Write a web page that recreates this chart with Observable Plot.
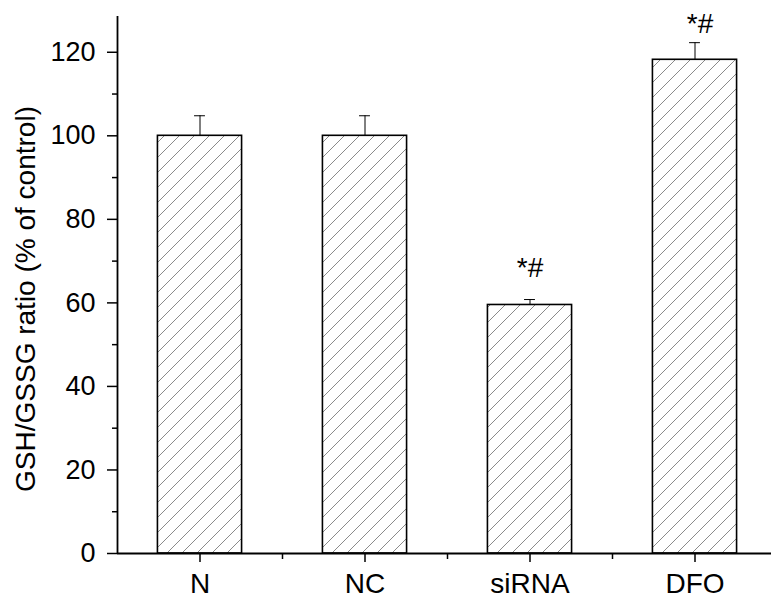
<!DOCTYPE html>
<html>
<head>
<meta charset="utf-8">
<script src="https://cdn.jsdelivr.net/npm/d3@7"></script>
<script src="https://cdn.jsdelivr.net/npm/@observablehq/plot@0.6"></script>
<style>
  html, body { margin: 0; padding: 0; background: #fff; overflow: hidden; }
  svg { display: block; }
</style>
</head>
<body>
<div id="chart"></div>
<script>
const categories = ["N", "NC", "siRNA", "DFO"];
const values = [100, 100, 59.5, 118.2];
const errors = [4.8, 4.8, 1.3, 4.1];
const marks = ["", "", "*#", "*#"];
const yTicks = [0, 20, 40, 60, 80, 100, 120];
const yMinorTicks = [10, 30, 50, 70, 90, 110];
const yLabel = "GSH/GSSG ratio (% of control)";

const data = categories.map((c, i) => ({
  cat: c, pos: i + 1, value: values[i], err: errors[i], mark: marks[i]
}));
const half = 0.255;
const cap = 0.033;

const chart = Plot.plot({
  width: 771,
  height: 602,
  marginLeft: 117,
  marginRight: 0,
  marginTop: 10,
  marginBottom: 49,
  style: { fontFamily: "'Liberation Sans', Arial, sans-serif", color: "#000", background: "#fff" },
  x: { type: "linear", domain: [0.5, 0.5 + 654 / 165] },
  y: { domain: [0, 130] },
  marks: [
    () => {
      const ns = "http://www.w3.org/2000/svg";
      const defs = document.createElementNS(ns, "defs");
      const p = document.createElementNS(ns, "pattern");
      p.setAttribute("id", "hatch");
      p.setAttribute("patternUnits", "userSpaceOnUse");
      p.setAttribute("width", "15");
      p.setAttribute("height", "15");
      const l1 = document.createElementNS(ns, "path");
      l1.setAttribute("d", "M-2,17 L17,-2 M-2,2 L2,-2 M13,17 L17,13");
      l1.setAttribute("stroke", "#8a8a8a");
      l1.setAttribute("stroke-width", "1");
      p.appendChild(l1);
      defs.appendChild(p);
      return defs;
    },
    Plot.rect(data, {
      x1: d => d.pos - half, x2: d => d.pos + half,
      y1: 0, y2: "value",
      fill: "url(#hatch)", stroke: "#000", strokeWidth: 1.6
    }),
    Plot.ruleX(data, { x: "pos", y1: "value", y2: d => d.value + d.err, stroke: "#000", strokeWidth: 1 }),
    Plot.ruleY(data, { y: d => d.value + d.err, x1: d => d.pos - cap, x2: d => d.pos + cap, stroke: "#000", strokeWidth: 1 }),
    Plot.text(data.filter(d => d.cat === "siRNA"), {
      x: "pos", y: d => d.value + d.err, text: "mark",
      dy: -32, fontSize: 28, fill: "#000"
    }),
    Plot.text(data.filter(d => d.cat === "DFO"), {
      x: "pos", y: d => d.value + d.err, text: "mark",
      dy: -19, dx: 5, fontSize: 28, fill: "#000"
    }),
    Plot.axisY({ ticks: yTicks, tickSize: 10, tickPadding: 12, fontSize: 27, label: null, strokeWidth: 1.5 }),
    Plot.axisY({ ticks: yMinorTicks, tickSize: 5, tickFormat: () => "", label: null, strokeWidth: 1.5 }),
    Plot.axisX({ ticks: [1, 2, 3, 4], tickSize: 9, tickPadding: 11, fontSize: 28,
      tickFormat: d => categories[Math.round(d) - 1], label: null, strokeWidth: 1.5 }),
    Plot.axisX({ ticks: [1.5, 2.5, 3.5], tickSize: 6, tickFormat: () => "", label: null, strokeWidth: 1.5 }),
    Plot.ruleX([0.5], { y1: 0, y2: 130, stroke: "#000", strokeWidth: 1.8, insetBottom: -6 }),
    Plot.ruleY([0], { stroke: "#000", strokeWidth: 1.8 }),
    Plot.text([yLabel], {
      frameAnchor: "left", textAnchor: "middle", rotate: -90, dx: -91, dy: 17,
      fontSize: 28, fill: "#000"
    })
  ]
});
document.getElementById("chart").appendChild(chart);
</script>
</body>
</html>
